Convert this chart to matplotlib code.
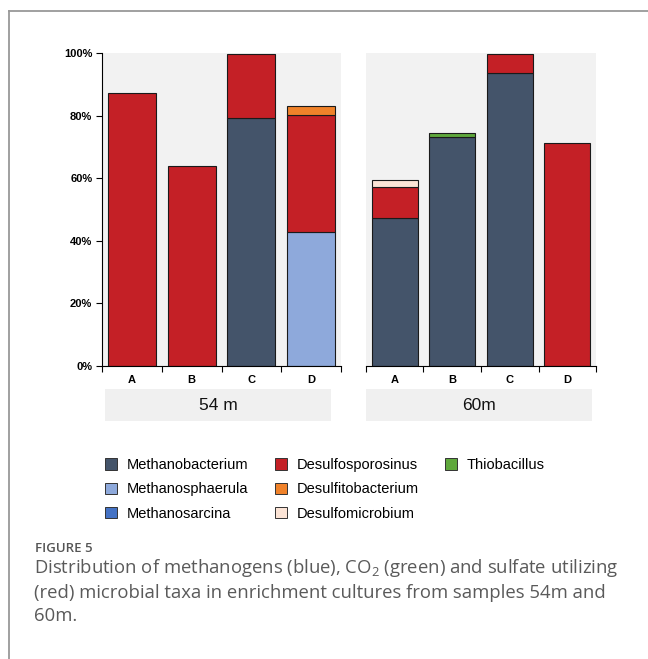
import numpy as np
import matplotlib
matplotlib.use("Agg")
import matplotlib.pyplot as plt
from matplotlib.patches import Rectangle, Patch
from matplotlib.lines import Line2D

plt.rcParams['font.family'] = ['Liberation Sans', 'DejaVu Sans']
plt.rcParams['mathtext.fontset'] = 'custom'
plt.rcParams['mathtext.rm'] = 'Open Sans'

# relative abundance (%) of each taxon, samples A-D
samples = ['A', 'B', 'C', 'D']
depths = ['54 m', '60m']
taxa = ['Methanobacterium', 'Methanosphaerula', 'Methanosarcina',
        'Desulfosporosinus', 'Desulfitobacterium', 'Desulfomicrobium',
        'Thiobacillus']
colors = ['#44546A', '#8EA9DB', '#4472C4', '#C42026', '#F0822A', '#FCE4D6', '#5FA83C']

share_54 = {
    'Methanobacterium':   [0, 0, 79.2, 0],
    'Methanosphaerula':   [0, 0, 0, 42.9],
    'Methanosarcina':     [0, 0, 0, 0],
    'Desulfosporosinus':  [87.3, 64.0, 20.6, 37.3],
    'Desulfitobacterium': [0, 0, 0, 3.0],
    'Desulfomicrobium':   [0, 0, 0, 0],
    'Thiobacillus':       [0, 0, 0, 0],
}
share_60 = {
    'Methanobacterium':   [47.2, 73.1, 93.8, 0],
    'Methanosphaerula':   [0, 0, 0, 0],
    'Methanosarcina':     [0, 0, 0, 0],
    'Desulfosporosinus':  [10.1, 0, 6.0, 71.4],
    'Desulfitobacterium': [0, 0, 0, 0],
    'Desulfomicrobium':   [2.1, 0, 0, 0],
    'Thiobacillus':       [0, 1.5, 0, 0],
}

W, H = 648, 659
fig = plt.figure(figsize=(W / 100, H / 100), dpi=100)


def fx(px):
    return px / W


def fy(px):
    return 1 - px / H


panel_box = [(102, 341), (366, 596)]
top_px, bot_px = 53.3, 365.7
label_box = [(105, 331), (366, 592)]

for k, (data, depth) in enumerate(zip([share_54, share_60], depths)):
    x0, x1 = panel_box[k]
    ax = fig.add_axes([fx(x0), fy(bot_px), fx(x1 - x0), (bot_px - top_px) / H])
    ax.set_facecolor('#F2F2F2')
    x = np.arange(len(samples))
    bottom = np.zeros(len(samples))
    for name, col in zip(taxa, colors):
        vals = np.array(data[name], dtype=float)
        keep = vals > 0
        ax.bar(x[keep], vals[keep], width=0.8, bottom=bottom[keep], color=col,
               edgecolor='#1a1a1a', linewidth=0.8, zorder=2)
        bottom += vals
    ax.set_xlim(-0.5, 3.5)
    ax.set_ylim(0, 100)
    ax.set_xticks(np.arange(-0.5, 4, 1))
    ax.set_xticklabels([])
    ax.set_xticks(x, minor=True)
    ax.set_xticklabels(samples, minor=True, fontsize=8, fontweight='bold')
    ax.tick_params(axis='x', which='major', direction='out', length=4, width=0.8)
    ax.tick_params(axis='x', which='minor', length=0, pad=7)
    for s in ['top', 'right']:
        ax.spines[s].set_visible(False)
    ax.spines['bottom'].set_linewidth(0.8)
    if k == 0:
        ax.set_yticks(np.arange(0, 101, 20))
        ax.set_yticklabels([f'{v}%' for v in range(0, 101, 20)],
                           fontsize=8, fontweight='bold')
        ax.tick_params(axis='y', direction='out', length=4, width=0.8, pad=3)
        ax.spines['left'].set_linewidth(0.8)
    else:
        ax.set_yticks([])
        ax.spines['left'].set_visible(False)

    # depth label strip under each panel
    l0, l1 = label_box[k]
    fig.patches.append(Rectangle((fx(l0), fy(421)), fx(l1 - l0), 32 / H,
                                 transform=fig.transFigure, facecolor='#F0F0F0',
                                 edgecolor='none'))
    fig.text(fx((l0 + l1) / 2), fy(405), depth, ha='center', va='center',
             fontsize=12.5, color='#111111')

handles = [Patch(facecolor=c, edgecolor='#333333', linewidth=0.7, label=t)
           for t, c in zip(taxa, colors)]
# two empty slots so the third column holds only Thiobacillus
blank = Patch(facecolor='none', edgecolor='none', label='')
handles += [blank, blank]
fig.legend(handles=handles, ncol=3, loc='upper left',
           bbox_to_anchor=(fx(92), fy(445)), frameon=False, fontsize=10.5,
           handlelength=0.8, handleheight=0.8, handletextpad=0.7,
           labelspacing=0.7, columnspacing=1.8)

# caption
fig.text(fx(35), fy(549), 'FIGURE 5', fontsize=9.5, color='#555555',
         family=['Open Sans', 'DejaVu Sans'], fontweight='semibold', va='center')
caption = ('Distribution of methanogens (blue), CO$_2$ (green) and sulfate utilizing\n'
           '(red) microbial taxa in enrichment cultures from samples 54m and\n'
           '60m.')
fig.text(fx(34), fy(557), caption, fontsize=13.3, color='#5a5a5a',
         family=['Open Sans', 'DejaVu Sans'], va='top', linespacing=1.37)

# card border
fig.add_artist(Line2D([fx(8.5), 1], [fy(10.5), fy(10.5)], color='#999999', lw=1.3,
                      transform=fig.transFigure))
fig.add_artist(Line2D([fx(8.5), fx(8.5)], [fy(10.5), 0], color='#999999', lw=1.3,
                      transform=fig.transFigure))

fig.savefig('out.png', dpi=100)
